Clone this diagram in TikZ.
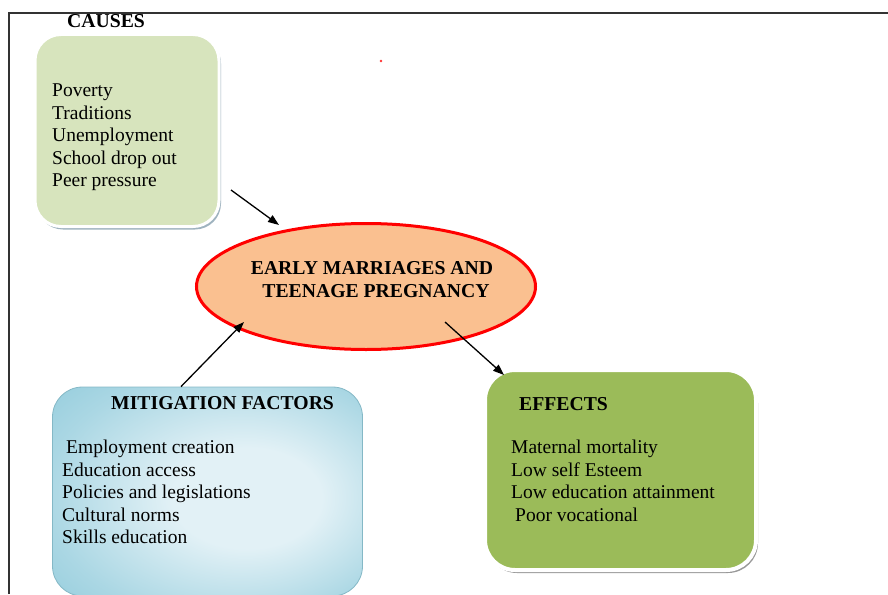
\documentclass[tikz,border=0pt]{standalone}
\usepackage{fontspec}
\setmainfont{Liberation Serif}
\usetikzlibrary{shapes.geometric,arrows.meta,shadows}
\definecolor{causesfill}{HTML}{D7E4BD}
\definecolor{causesedge}{HTML}{9FB3BF}
\definecolor{effectsfill}{HTML}{9BBB59}
\definecolor{mitigdark}{HTML}{93CCDC}
\definecolor{mitiglight}{HTML}{E2F1F6}
\definecolor{corefill}{HTML}{FAC090}
\pgfdeclareradialshading{mitigglow}{\pgfpoint{8bp}{-2bp}}{color(0bp)=(mitiglight); color(12bp)=(mitiglight); color(30bp)=(mitigdark!70!mitiglight); color(40bp)=(mitigdark); color(60bp)=(mitigdark)}
\tikzset{
  box/.style={rectangle, rounded corners=26pt, inner sep=0pt},
  head/.style={font=\bfseries\fontsize{19.7}{22.5}\selectfont, inner sep=0pt, anchor=base west},
  items/.style={font=\fontsize{19.5}{22.5}\selectfont, inner sep=0pt, align=left, anchor=north west},
  link/.style={-{Triangle[length=11pt,width=8pt]}, line width=1.3pt},
}
\begin{document}
\begin{tikzpicture}[x=1pt,y=-1pt]
  \useasboundingbox (0,0) rectangle (888,594);
  \draw[line width=1.3pt, black!80] (9,594) -- (9,13) -- (888,13);
  \fill[red!80] (381,61) circle (1.3pt);

  \node[box, minimum width=184pt, minimum height=192pt, fill=causesfill, draw=white, line width=3pt,
        drop shadow={shadow xshift=2pt, shadow yshift=-3pt, fill=causesedge, opacity=1}] (causes) at (127,130.5) {};
  \node[box, rounded corners=30pt, minimum width=310pt, minimum height=209pt, shading=mitigglow,
        draw=mitigdark!90!black, line width=0.8pt] (mitig) at (207.5,491.5) {};
  \node[box, rounded corners=30pt, minimum width=271pt, minimum height=200pt, fill=effectsfill, draw=white, line width=4pt,
        drop shadow={shadow xshift=2pt, shadow yshift=-3pt, fill=black!40, opacity=1}] (effects) at (620.5,470) {};
  \node[ellipse, minimum width=339pt, minimum height=126pt, inner sep=0pt, fill=corefill, draw=red, line width=3pt] (core) at (366,286.5) {};

  \node[head, anchor=base, align=center] (coretitle) at (372,297) {EARLY MARRIAGES AND\\\hspace*{8pt}TEENAGE PREGNANCY};
  \node[head] (causeshead) at (67,28) {CAUSES};
  \node[head] (mitighead) at (111,409) {MITIGATION FACTORS};
  \node[head] (effectshead) at (519,410) {EFFECTS};

  \node[items] (causelist) at (52,84) {Poverty\\Traditions\\Unemployment\\School drop out\\Peer pressure};
  \node[items] (mitiglist) at (62,440) {\hspace*{4pt}Employment creation\\Education access\\Policies and legislations\\Cultural norms\\Skills education};
  \node[items] (effectlist) at (511,440) {Maternal mortality\\Low self Esteem\\Low education attainment\\\hspace*{4pt}Poor vocational};

  \draw[link] ([shift={(10.5,-38)}]causes.south east) -- ([shift={(-87,-61.5)}]core.center);
  \draw[link] ([shift={(-26.5,0)}]mitig.north) -- ([shift={(-122,35.5)}]core.center);
  \draw[link] ([shift={(79,35.5)}]core.center) -- ([shift={(21,7)}]effects.north west);
\end{tikzpicture}
\end{document}
